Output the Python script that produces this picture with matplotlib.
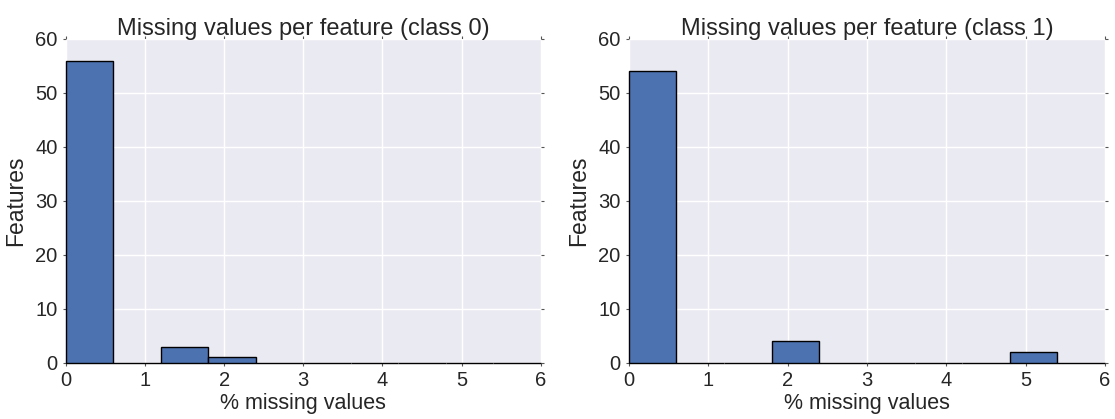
import numpy as np
import matplotlib
matplotlib.use("Agg")
import matplotlib.pyplot as plt

# Histogram bins (percent of missing values), 10 bins of width 0.6
bin_edges = [0.0, 0.6, 1.2, 1.8, 2.4, 3.0, 3.6, 4.2, 4.8, 5.4, 6.0]

# Number of features in each bin
counts_class0 = [56, 0, 3, 1, 0, 0, 0, 0, 0, 0]
counts_class1 = [54, 0, 0, 4, 0, 0, 0, 0, 2, 0]

titles = ["Missing values per feature (class 0)", "Missing values per feature (class 1)"]

plt.rcParams['font.family'] = ['Liberation Sans', 'DejaVu Sans']

fig = plt.figure(figsize=(11.15, 4.19), dpi=100)
ax0 = fig.add_axes([0.059, 0.134, 0.426, 0.773])
ax1 = fig.add_axes([0.564, 0.134, 0.427, 0.773])

for ax, counts, title in zip([ax0, ax1], [counts_class0, counts_class1], titles):
    ax.set_facecolor("#EAEAF2")
    ax.set_axisbelow(True)
    ax.grid(True, color="white", linewidth=1)
    for s in ax.spines.values():
        s.set_visible(False)

    _, _, patches = ax.hist(bin_edges[:-1], bins=bin_edges, weights=counts,
                            color="#4C72B0", edgecolor="black", linewidth=1)
    for p in patches:
        p.set_clip_on(False)

    ax.set_xlim(0, 6)
    ax.set_ylim(0, 60)
    ax.set_xticks(range(0, 7))
    ax.set_yticks(range(0, 61, 10))
    ax.tick_params(axis="both", labelsize=14.5, length=0, pad=4, colors="#262626")
    ax.tick_params(right=True, top=True, length=2, width=0.8, direction="out",
                   color="#555555")
    ax.set_xlabel("% missing values", fontsize=15.5, color="#262626", labelpad=2)
    ax.set_ylabel("Features", fontsize=16.5, color="#262626", labelpad=6)
    ax.set_title(title, fontsize=17, color="#262626", pad=3)

plt.savefig("out.png", dpi=100)
